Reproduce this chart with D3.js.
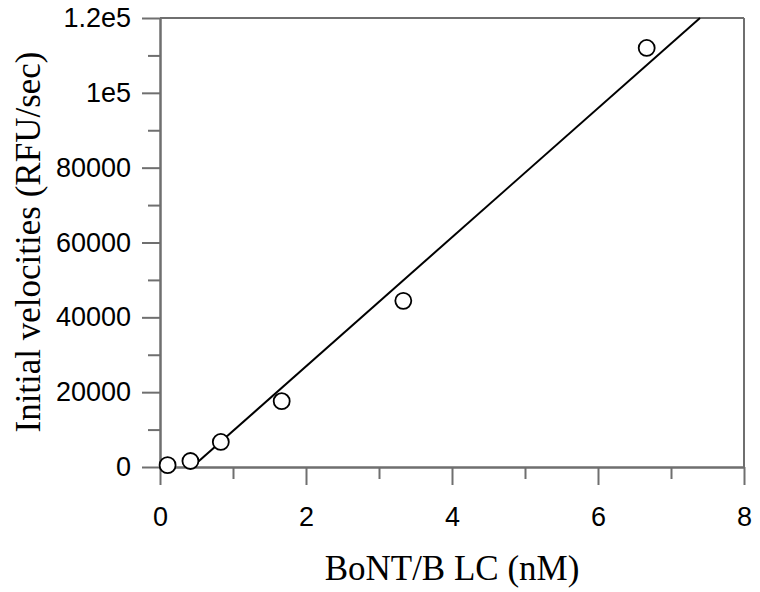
<!DOCTYPE html>
<html>
<head>
<meta charset="utf-8">
<script src="https://cdn.jsdelivr.net/npm/d3@7"></script>
<style>
  body { margin: 0; background: #fff; }
  svg { display: block; }
</style>
</head>
<body>
<svg id="chart" width="760" height="592"></svg>
<script>
// data
const concentrations = [0.104, 0.417, 0.833, 1.667, 3.333, 6.667]   // nM
const velocities = [500, 1600, 6700, 17600, 44400, 112000]          // RFU/sec
const fitSlope = 17250
const fitIntercept = -7600

const xMajorTicks = [0, 2, 4, 6, 8]
const xMinorTicks = [1, 3, 5, 7]
const yMajorTicks = [0, 20000, 40000, 60000, 80000, 100000, 120000]
const yMinorTicks = [10000, 30000, 50000, 70000, 90000, 110000]
const yTickLabels = ["0", "20000", "40000", "60000", "80000", "1e5", "1.2e5"]

const xTitle = "BoNT/B LC (nM)"
const yTitle = "Initial velocities (RFU/sec)"

// set up svg
const margin = { top: 18, right: 16, bottom: 125, left: 160 }
const w = 760 - margin.left - margin.right
const h = 592 - margin.top - margin.bottom
const axisColor = "#6f6f6f"

const svg = d3.select("#chart")
const g = svg.append("g").attr("transform", `translate(${margin.left},${margin.top})`)

// scales
const xScale = d3.scaleLinear().domain([0, 8]).range([0, w])
const yScale = d3.scaleLinear().domain([0, 120000]).range([h, 0])

// minor ticks first, then the major ones on top
g.append("g")
  .attr("transform", `translate(0,${h})`)
  .call(d3.axisBottom(xScale).tickValues(xMinorTicks).tickSize(12).tickSizeOuter(0).tickFormat(""))
g.append("g")
  .call(d3.axisLeft(yScale).tickValues(yMinorTicks).tickSize(12).tickSizeOuter(0).tickFormat(""))

const xAxis = g.append("g")
  .attr("transform", `translate(0,${h})`)
  .call(d3.axisBottom(xScale).tickValues(xMajorTicks).tickSize(18).tickPadding(22).tickSizeOuter(0).tickFormat(d3.format("d")))
const yAxis = g.append("g")
  .call(d3.axisLeft(yScale).tickValues(yMajorTicks).tickSize(18).tickPadding(11).tickSizeOuter(0)
    .tickFormat((d, i) => yTickLabels[i]))

g.selectAll(".domain, .tick line").attr("stroke", axisColor).attr("stroke-width", 2)
g.selectAll(".tick text")
  .attr("fill", "#000")
  .style("font-family", "'Liberation Sans', Arial, sans-serif")
  .style("font-size", "27px")

// frame top and right
g.append("line")
  .attr("x1", xScale(0)).attr("x2", xScale(8))
  .attr("y1", yScale(120000)).attr("y2", yScale(120000))
  .attr("stroke", axisColor).attr("stroke-width", 2)
g.append("line")
  .attr("x1", xScale(8)).attr("x2", xScale(8))
  .attr("y1", yScale(0)).attr("y2", yScale(120000))
  .attr("stroke", axisColor).attr("stroke-width", 2)

// fit line, from where it crosses 0 to the top of the plot
const fitX = [-fitIntercept / fitSlope, (120000 - fitIntercept) / fitSlope]
g.append("path")
  .datum(fitX)
  .attr("d", d3.line().x(d => xScale(d)).y(d => yScale(fitSlope * d + fitIntercept)))
  .attr("fill", "none")
  .attr("stroke", "#000")
  .attr("stroke-width", 2)

// points
g.selectAll(".pt")
  .data(concentrations)
  .join("circle")
  .attr("class", "pt")
  .attr("cx", d => xScale(d))
  .attr("cy", (d, i) => yScale(velocities[i]))
  .attr("r", 8)
  .attr("fill", "#fff")
  .attr("stroke", "#000")
  .attr("stroke-width", 1.8)

// titles
svg.append("text")
  .attr("x", margin.left + w / 2)
  .attr("y", 580)
  .attr("text-anchor", "middle")
  .style("font-family", "'Liberation Serif', 'Times New Roman', serif")
  .style("font-size", "35px")
  .text(xTitle)

svg.append("text")
  .attr("transform", `translate(40,${margin.top + 224}) rotate(-90)`)
  .attr("text-anchor", "middle")
  .style("font-family", "'Liberation Serif', 'Times New Roman', serif")
  .style("font-size", "35px")
  .text(yTitle)
</script>
</body>
</html>
